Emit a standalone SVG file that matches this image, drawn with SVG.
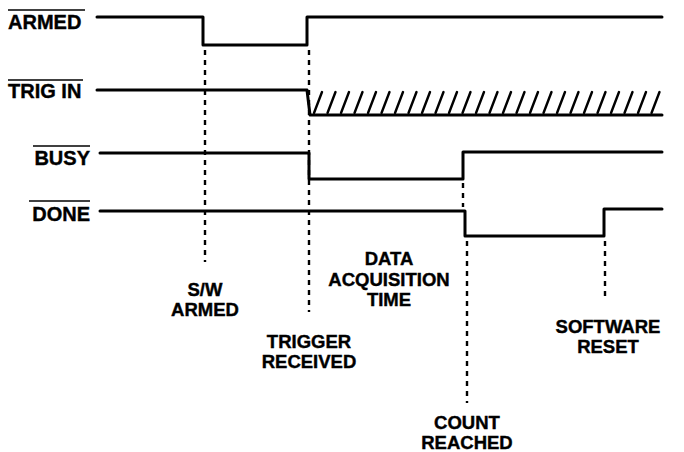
<svg xmlns="http://www.w3.org/2000/svg" width="684" height="452" viewBox="0 0 684 452">
<style>
text{font-family:"Liberation Sans",Arial,sans-serif;font-weight:bold;fill:#000;stroke:#000;stroke-width:0.4}
.sig{font-size:20px}
.lbl{font-size:18.5px;text-anchor:middle}
.wave{fill:none;stroke:#000;stroke-width:3;stroke-linejoin:round;stroke-linecap:round}
.ovl{stroke:#000;stroke-width:1.6}
.dash{stroke:#000;stroke-width:2.4;stroke-dasharray:5 5;fill:none}
.hatch{stroke:#000;stroke-width:2.4;stroke-linecap:round}
</style>
<rect width="684" height="452" fill="#fff"/>
<g id="armed">
  <text class="sig" x="8" y="29">ARMED</text>
  <line class="ovl" x1="8" y1="10" x2="85" y2="10"/>
  <path class="wave" d="M97,17 H203 V45 H307 V17 H662"/>
</g>
<g id="trigin">
  <text class="sig" x="8" y="98">TRIG IN</text>
  <line class="ovl" x1="8" y1="80" x2="83" y2="80"/>
  <path class="wave" d="M97,90 H307 L310,115 H662"/>
  <g class="hatch">
    <line x1="314" y1="113" x2="322" y2="92"/>
    <line x1="327.5" y1="113" x2="335.5" y2="92"/>
    <line x1="341" y1="113" x2="349" y2="92"/>
    <line x1="354.5" y1="113" x2="362.5" y2="92"/>
    <line x1="368" y1="113" x2="376" y2="92"/>
    <line x1="381.5" y1="113" x2="389.5" y2="92"/>
    <line x1="395" y1="113" x2="403" y2="92"/>
    <line x1="408.5" y1="113" x2="416.5" y2="92"/>
    <line x1="422" y1="113" x2="430" y2="92"/>
    <line x1="435.5" y1="113" x2="443.5" y2="92"/>
    <line x1="449" y1="113" x2="457" y2="92"/>
    <line x1="462.5" y1="113" x2="470.5" y2="92"/>
    <line x1="476" y1="113" x2="484" y2="92"/>
    <line x1="489.5" y1="113" x2="497.5" y2="92"/>
    <line x1="503" y1="113" x2="511" y2="92"/>
    <line x1="516.5" y1="113" x2="524.5" y2="92"/>
    <line x1="530" y1="113" x2="538" y2="92"/>
    <line x1="543.5" y1="113" x2="551.5" y2="92"/>
    <line x1="557" y1="113" x2="565" y2="92"/>
    <line x1="570.5" y1="113" x2="578.5" y2="92"/>
    <line x1="584" y1="113" x2="592" y2="92"/>
    <line x1="597.5" y1="113" x2="605.5" y2="92"/>
    <line x1="611" y1="113" x2="619" y2="92"/>
    <line x1="624.5" y1="113" x2="632.5" y2="92"/>
    <line x1="638" y1="113" x2="646" y2="92"/>
    <line x1="651.5" y1="113" x2="659.5" y2="92"/>
  </g>
</g>
<g id="busy">
  <text class="sig" x="90" y="165" text-anchor="end">BUSY</text>
  <line class="ovl" x1="33" y1="146" x2="90" y2="146"/>
  <path class="wave" d="M100,153 H309 V179 H463 V152 H662"/>
</g>
<g id="done">
  <text class="sig" x="90" y="221" text-anchor="end">DONE</text>
  <line class="ovl" x1="29" y1="201" x2="90" y2="201"/>
  <path class="wave" d="M100,211 H465 V236 H604 V209 H662"/>
</g>
<g id="connectors">
  <line class="dash" x1="205" y1="50" x2="205" y2="262"/>
  <line class="dash" x1="309" y1="50" x2="309" y2="312"/>
  <line class="dash" x1="463" y1="183" x2="463" y2="207"/>
  <line class="dash" x1="467" y1="241" x2="467" y2="403"/>
  <line class="dash" x1="605" y1="241" x2="605" y2="300"/>
</g>
<g id="sw-armed">
  <text class="lbl" x="205" y="296">S/W</text>
  <text class="lbl" x="205" y="316">ARMED</text>
</g>
<g id="trigger-received">
  <text class="lbl" x="309" y="348">TRIGGER</text>
  <text class="lbl" x="309" y="368">RECEIVED</text>
</g>
<g id="data-acq">
  <text class="lbl" x="389" y="265">DATA</text>
  <text class="lbl" x="389" y="286">ACQUISITION</text>
  <text class="lbl" x="389" y="306">TIME</text>
</g>
<g id="software-reset">
  <text class="lbl" x="608" y="333">SOFTWARE</text>
  <text class="lbl" x="608" y="353">RESET</text>
</g>
<g id="count-reached">
  <text class="lbl" x="467" y="429">COUNT</text>
  <text class="lbl" x="467" y="449">REACHED</text>
</g>
</svg>
